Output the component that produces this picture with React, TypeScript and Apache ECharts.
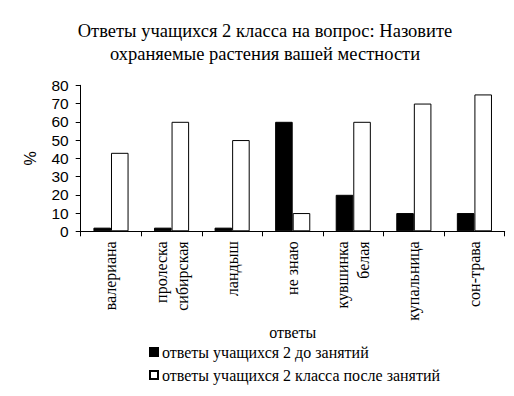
import React, { useEffect, useRef } from "react";
import * as echarts from "echarts";

const categories = [
  "валериана",
  "пролеска\nсибирская",
  "ландыш",
  "не знаю",
  "кувшинка\nбелая",
  "купальница",
  "сон-трава",
];
const seriesBeforeName = "ответы учащихся 2 до занятий";
const seriesAfterName = "ответы учащихся 2 класса после занятий";
const before = [2, 2, 2, 60, 20, 10, 10];
const after = [43, 60, 50, 10, 60, 70, 75];
const yTicks = { min: 0, max: 80, interval: 10 };

const serif = "'Liberation Serif', 'Times New Roman', serif";
const sans = "'Liberation Sans', Arial, sans-serif";

export default function App() {
  const ref = useRef<HTMLDivElement>(null);
  useEffect(() => {
    if (!ref.current) return;
    const chart = echarts.init(ref.current, null, { renderer: "svg" });
    chart.setOption({
      animation: false,
      backgroundColor: "#fff",
      title: {
        text: "Ответы учащихся 2 класса на вопрос: Назовите\nохраняемые растения вашей местности",
        left: 260,
        textAlign: "center",
        top: 14,
        textStyle: {
          fontFamily: serif,
          fontSize: 18.5,
          fontWeight: "normal",
          color: "#000",
          lineHeight: 23,
        },
      },
      legend: {
        orient: "vertical",
        left: 144,
        top: 339,
        itemWidth: 8,
        itemHeight: 8,
        itemGap: 7,
        icon: "rect",
        textStyle: { fontFamily: serif, fontSize: 16, color: "#000", padding: [0, 0, 0, -1] },
        data: [seriesBeforeName, seriesAfterName],
      },
      grid: { left: 80.7, right: 9.3, top: 85.3, bottom: 164.7 },
      xAxis: {
        type: "category",
        data: categories,
        name: "ответы",
        nameLocation: "middle",
        nameGap: 83,
        nameTextStyle: { fontFamily: serif, fontSize: 16, color: "#000" },
        axisLine: { lineStyle: { color: "#000", width: 1 } },
        axisTick: { show: true, length: 5, lineStyle: { color: "#000" } },
        axisLabel: {
          rotate: 90,
          interval: 0,
          margin: 10,
          fontFamily: serif,
          fontSize: 16,
          lineHeight: 21,
          color: "#000",
        },
      },
      yAxis: {
        type: "value",
        min: yTicks.min,
        max: yTicks.max,
        interval: yTicks.interval,
        name: "%",
        nameLocation: "middle",
        nameGap: 42,
        nameRotate: 90,
        nameTextStyle: { fontFamily: sans, fontSize: 16, color: "#000" },
        axisLine: { show: true, lineStyle: { color: "#000", width: 1 } },
        axisTick: { show: true, length: 5, lineStyle: { color: "#000" } },
        splitLine: { show: false },
        axisLabel: { fontFamily: sans, fontSize: 15.5, color: "#000", margin: 12 },
      },
      series: [
        {
          name: seriesBeforeName,
          type: "bar",
          data: before,
          barGap: "0%",
          barCategoryGap: "42%",
          itemStyle: { color: "#000", borderColor: "#000", borderWidth: 1 },
        },
        {
          name: seriesAfterName,
          type: "bar",
          data: after,
          barGap: "0%",
          barCategoryGap: "42%",
          itemStyle: { color: "#fff", borderColor: "#000", borderWidth: 1 },
        },
      ],
    });
    return () => chart.dispose();
  }, []);
  return <div ref={ref} style={{ width: 514, height: 396, margin: -8 }} />;
}
